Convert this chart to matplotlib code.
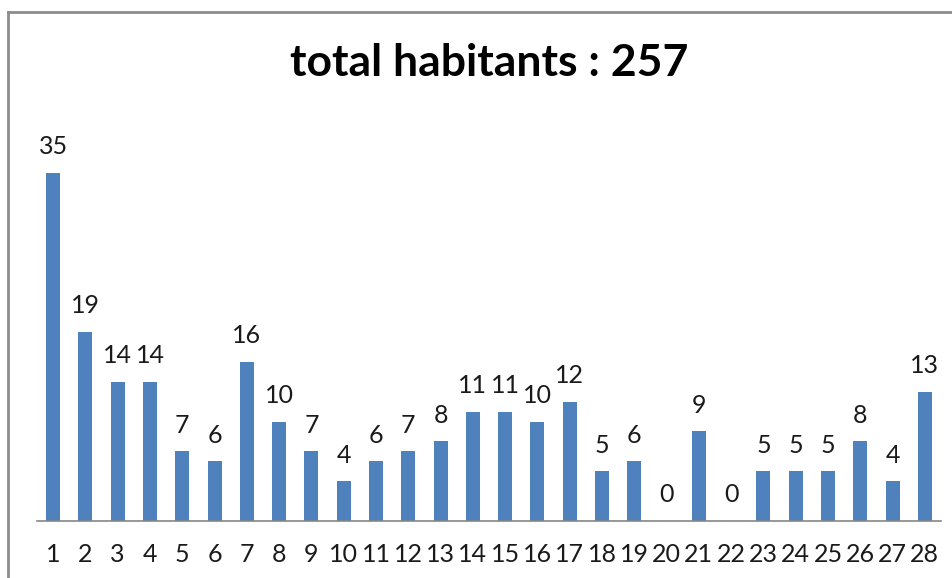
import matplotlib.pyplot as plt
from matplotlib.lines import Line2D

# habitants par numéro
numeros = list(range(1, 29))
habitants = [35, 19, 14, 14, 7, 6, 16, 10, 7, 4, 6, 7, 8, 11,
             11, 10, 12, 5, 6, 0, 9, 0, 5, 5, 5, 8, 4, 13]

plt.rcParams['font.family'] = ['Lato', 'DejaVu Sans']

W, H = 953, 578
fig = plt.figure(figsize=(W / 100, H / 100), dpi=100)
ax = fig.add_axes([37 / W, 57 / H, 904 / W, 398 / H])

x = range(len(numeros))
bars = ax.bar(x, habitants, width=0.43, color='#4F81BD')

for b, v in zip(bars, habitants):
    ax.annotate(str(v), (b.get_x() + b.get_width() / 2, v),
                xytext=(0, 10.5), textcoords='offset points',
                ha='center', va='bottom', fontsize=18, color='#1a1a1a')

ax.set_xlim(-0.5, len(numeros) - 0.5)
ax.set_ylim(0, 40)
ax.set_xticks(list(x))
ax.set_xticklabels([str(n) for n in numeros], fontsize=18, color='#1a1a1a')
ax.tick_params(axis='x', length=0, pad=16)
ax.set_yticks([])

for side in ('top', 'right', 'left'):
    ax.spines[side].set_visible(False)
ax.spines['bottom'].set_color('#868686')
ax.spines['bottom'].set_linewidth(1.2)

fig.text(489 / W, 1 - 63 / H, 'total habitants : 257', ha='center', va='center',
         fontsize=32, fontweight='bold', color='black')

# cadre du graphique
fig.add_artist(Line2D([8 / W, 8 / W], [0, 1 - 12 / H], color='#8c8c8c', lw=2))
fig.add_artist(Line2D([8 / W, 1], [1 - 12 / H, 1 - 12 / H], color='#8c8c8c', lw=2))

fig.savefig('out.png', dpi=100)
